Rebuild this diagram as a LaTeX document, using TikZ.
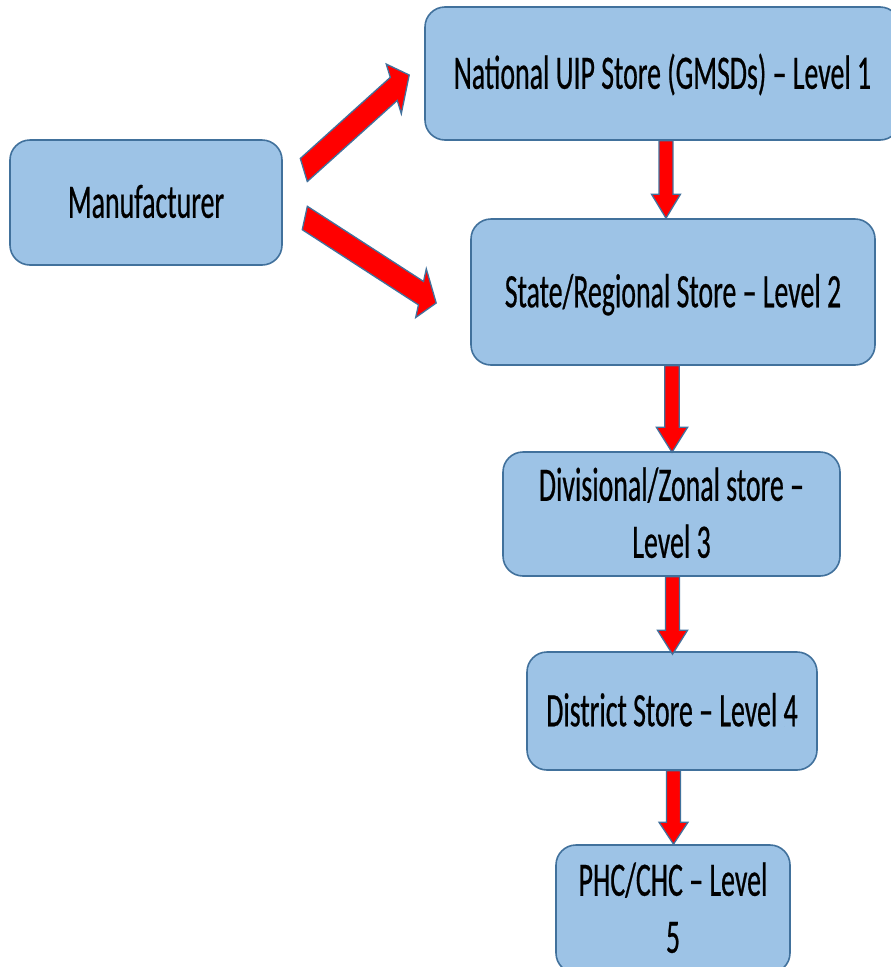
\documentclass[tikz,border=0pt]{standalone}
\usepackage{fontspec}
\setmainfont{Carlito}[FakeStretch=0.58, FakeBold=0.5]
\usetikzlibrary{calc}

\definecolor{boxfill}{RGB}{157,195,230}
\definecolor{boxline}{RGB}{65,113,156}
\definecolor{arrowred}{RGB}{255,0,0}

% horizontal squeeze applied to the block arrows
\newcommand\sq{0.58}

% block arrow from #1 to #2: shaft half-width #3, head half-width #4, head length #5
\newcommand\fatarrow[5]{%
  \filldraw[fatarrow] let \p1=(#1), \p2=(#2),
      \n1={veclen((\x2-\x1)/\sq,\y2-\y1)},
      \n2={(\x2-\x1)/\sq/\n1}, \n3={(\y2-\y1)/\n1}
    in ({\x1-\sq*\n3*#3},{\y1+\n2*#3})
    -- ({\x2-\sq*\n2*#5-\sq*\n3*#3},{\y2-\n3*#5+\n2*#3})
    -- ({\x2-\sq*\n2*#5-\sq*\n3*#4},{\y2-\n3*#5+\n2*#4})
    -- (\p2)
    -- ({\x2-\sq*\n2*#5+\sq*\n3*#4},{\y2-\n3*#5-\n2*#4})
    -- ({\x2-\sq*\n2*#5+\sq*\n3*#3},{\y2-\n3*#5-\n2*#3})
    -- ({\x1+\sq*\n3*#3},{\y1-\n2*#3})
    -- cycle;}

\tikzset{
  stage/.style={draw=boxline, line width=1.6pt, fill=boxfill,
    rounded corners=20pt, inner sep=0pt, align=center,
    font=\fontsize{48}{57}\selectfont, text height=30.5pt, text depth=0pt},
  twoline/.style={text height=87.5pt},
  fatarrow/.style={fill=arrowred, draw=boxline, line width=1.3pt, line join=miter}
}

\begin{document}
\begin{tikzpicture}[x=1pt, y=-1pt]
  \useasboundingbox (0,0) rectangle (891,967);
  \clip (0,0) rectangle (891,967);
  \fill[white] (0,0) rectangle (891,967);

  % stores
  \node[stage, minimum width=272pt, minimum height=125pt] (mf) at (146,202.5) {Manufacturer};
  \node[stage, minimum width=475pt, minimum height=133pt] (nat) at (662.5,73.5) {National UIP Store (GMSDs) – Level 1};
  \node[stage, minimum width=404pt, minimum height=146pt] (st) at (673,292) {State/Regional Store – Level 2};
  \node[stage, twoline, minimum width=337pt, minimum height=124pt] (dv) at (671.5,514) {Divisional/Zonal store –\\ Level 3};
  \node[stage, minimum width=290pt, minimum height=118pt] (ds) at (672,711) {District Store – Level 4};
  \node[stage, twoline, minimum width=234pt, minimum height=128pt] (ph) at (673,909) {PHC/CHC – Level\\ 5};

  % arrow ends
  \coordinate (b1s) at ($(mf.east)+(21,-32.5)$);
  \coordinate (b1e) at ($(nat.west)+(-15,1.5)$);
  \coordinate (b2s) at ($(mf.east)+(22,15.5)$);
  \coordinate (b2e) at ($(st.west)+(-34,11)$);
  \coordinate (a1s) at ($(nat.south)+(3.5,0)$);
  \coordinate (a1e) at ($(st.north)+(-7,0)$);
  \coordinate (a2s) at ($(st.south)+(-1,0)$);
  \coordinate (a2e) at ($(dv.north)+(0.5,1)$);
  \coordinate (a3s) at ($(dv.south)+(1,0)$);
  \coordinate (a3e) at ($(ds.north)+(0.5,3)$);
  \coordinate (a4s) at ($(ds.south)+(1.5,0)$);
  \coordinate (a4e) at ($(ph.north)+(0.5,0)$);

  % supply flow
  \fatarrow{b1s}{b1e}{13}{28}{30}
  \fatarrow{b2s}{b2e}{12.5}{26}{28}
  \fatarrow{a1s}{a1e}{12}{25}{24}
  \fatarrow{a2s}{a2e}{12.5}{27}{25}
  \fatarrow{a3s}{a3e}{12}{26}{24}
  \fatarrow{a4s}{a4e}{12}{25}{22}
\end{tikzpicture}
\end{document}
